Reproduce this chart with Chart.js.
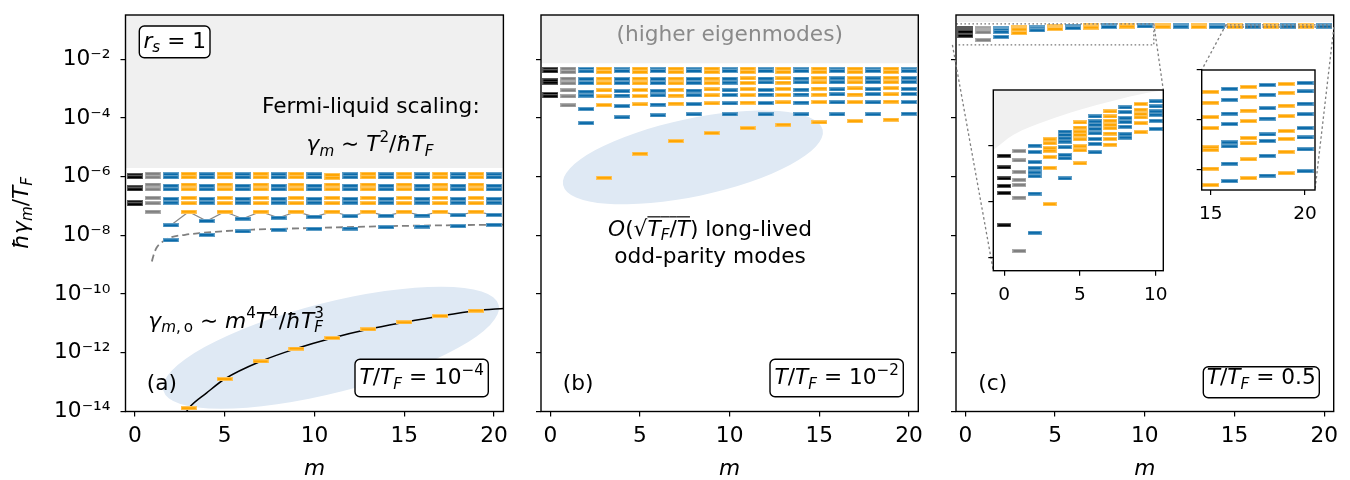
<!DOCTYPE html>
<html><head><meta charset="utf-8">
<script src="https://cdn.jsdelivr.net/npm/chart.js@4.4.1/dist/chart.umd.min.js"></script>
<style>
html,body{margin:0;padding:0;background:#fff;}
body{width:1350px;height:480px;position:relative;overflow:hidden;}
canvas{position:absolute;}
</style></head><body>
<canvas id="pa"></canvas><canvas id="pb"></canvas><canvas id="pc"></canvas><canvas id="in1"></canvas><canvas id="in2"></canvas>
<script>
// ================= DATA =================
const X_TICKS = [0, 5, 10, 15, 20];
const Y_TICKS = [1e-14, 1e-12, 1e-10, 1e-8, 1e-6, 1e-4, 1e-2];
const IN1_X_TICKS = [0, 5, 10];
const IN1_Y_TICKS = [0.04, 0.08, 0.12];
const IN2_X_TICKS = [15, 20];
const IN2_Y_TICKS = [0.13, 0.14, 0.15];

// panel (a), T/T_F = 1e-4 : damping rates for each m (index = m)
const A_COLS = [
 [1.12e-6, 9.6e-7, 4.3e-7, 3.7e-7, 1.35e-7, 1.15e-7],
 [1.26e-6, 9.6e-7, 5.4e-7, 3.7e-7, 1.9e-7, 1.25e-7, 6.4e-8],
 [1.2e-6, 9.6e-7, 4.9e-7, 3.7e-7, 1.75e-7, 1.3e-7, 2.2e-8, 6.8e-9],
 [1.26e-6, 9.6e-7, 5.4e-7, 3.7e-7, 1.9e-7, 1.25e-7, 6.4e-8, 1.3e-14],
 [1.2e-6, 9.6e-7, 4.9e-7, 3.7e-7, 1.75e-7, 1.3e-7, 3.1e-8, 1.04e-8],
 [1.26e-6, 9.6e-7, 5.4e-7, 3.7e-7, 1.9e-7, 1.25e-7, 6.4e-8, 1.28e-13],
 [1.2e-6, 9.6e-7, 4.9e-7, 3.7e-7, 1.75e-7, 1.3e-7, 3.7e-8, 1.36e-8],
 [1.26e-6, 9.6e-7, 5.4e-7, 3.7e-7, 1.9e-7, 1.25e-7, 6.4e-8, 5.1e-13],
 [1.2e-6, 9.6e-7, 4.9e-7, 3.7e-7, 1.75e-7, 1.3e-7, 4.0e-8, 1.55e-8],
 [1.26e-6, 9.6e-7, 5.4e-7, 3.7e-7, 1.9e-7, 1.25e-7, 6.4e-8, 1.4e-12],
 [1.2e-6, 9.6e-7, 4.9e-7, 3.7e-7, 1.75e-7, 1.3e-7, 4.3e-8, 1.67e-8],
 [1.15e-6, 9.2e-7, 5.4e-7, 3.7e-7, 1.9e-7, 1.25e-7, 6.4e-8, 3.2e-12],
 [1.2e-6, 9.6e-7, 4.9e-7, 3.7e-7, 1.75e-7, 1.3e-7, 4.5e-8, 1.71e-8],
 [1.26e-6, 9.6e-7, 5.4e-7, 3.7e-7, 1.9e-7, 1.25e-7, 6.4e-8, 6.3e-12],
 [1.2e-6, 9.6e-7, 4.9e-7, 3.7e-7, 1.75e-7, 1.3e-7, 4.65e-8, 1.9e-8],
 [1.26e-6, 9.6e-7, 5.4e-7, 3.7e-7, 1.9e-7, 1.25e-7, 6.4e-8, 1.09e-11],
 [1.2e-6, 9.6e-7, 4.9e-7, 3.7e-7, 1.75e-7, 1.3e-7, 4.76e-8, 2.0e-8],
 [1.26e-6, 9.6e-7, 5.4e-7, 3.7e-7, 1.9e-7, 1.25e-7, 6.4e-8, 1.8e-11],
 [1.2e-6, 9.6e-7, 4.9e-7, 3.7e-7, 1.75e-7, 1.3e-7, 4.88e-8, 2.06e-8],
 [1.26e-6, 9.6e-7, 5.4e-7, 3.7e-7, 1.9e-7, 1.25e-7, 6.4e-8, 2.73e-11],
 [1.2e-6, 9.6e-7, 4.9e-7, 3.7e-7, 1.75e-7, 1.3e-7, 5.0e-8, 2.29e-8]
];
const A_ZIG_INDEX = 6;                 // the single lower mode joined by the thin grey line (m >= 2)
const A_GUIDE_M = [0.95, 1.05, 1.21, 1.5, 1.95, 2.8, 3.8, 5, 6.6, 8.5, 10.3, 14, 20.6];
const A_GUIDE_V = [1.3e-9, 2.2e-9, 3.8e-9, 5.8e-9, 8.3e-9, 1.05e-8, 1.22e-8, 1.4e-8, 1.58e-8, 1.7e-8, 1.81e-8, 2.06e-8, 2.34e-8];
const A_FIT_M = [2.88, 3, 4, 5, 7, 9, 11, 13, 15, 17, 19, 20.6];
const A_FIT_V = [1.0e-14, 1.3e-14, 4.3e-14, 1.28e-13, 5.1e-13, 1.4e-12, 3.2e-12, 6.3e-12, 1.09e-11, 1.8e-11, 2.73e-11, 3.25e-11];

// panel (b), T/T_F = 1e-2
const B_COLS = [
 [4.6e-3, 3.9e-3, 1.9e-3, 1.6e-3, 6.6e-4, 5.5e-4],
 [4.82e-3, 3.69e-3, 2.2e-3, 1.52e-3, 8.75e-4, 5.47e-4, 2.7e-4],
 [4.67e-3, 3.9e-3, 2.13e-3, 1.55e-3, 7.9e-4, 5.8e-4, 2.01e-4, 6.7e-5],
 [4.82e-3, 3.69e-3, 2.2e-3, 1.52e-3, 8.75e-4, 5.47e-4, 2.76e-4, 9.2e-7],
 [4.5e-3, 4.0e-3, 2.13e-3, 1.55e-3, 8.2e-4, 5.8e-4, 2.55e-4, 1.05e-4],
 [4.82e-3, 3.69e-3, 2.2e-3, 1.52e-3, 9.0e-4, 5.6e-4, 2.92e-4, 6.07e-6],
 [4.5e-3, 4.0e-3, 2.13e-3, 1.55e-3, 8.4e-4, 5.9e-4, 2.85e-4, 1.23e-4],
 [4.82e-3, 3.69e-3, 2.2e-3, 1.52e-3, 9.2e-4, 5.8e-4, 3.08e-4, 1.63e-5],
 [4.5e-3, 4.0e-3, 2.15e-3, 1.57e-3, 8.6e-4, 6.0e-4, 2.98e-4, 1.33e-4],
 [4.82e-3, 3.69e-3, 2.2e-3, 1.55e-3, 9.4e-4, 5.9e-4, 3.15e-4, 3.06e-5],
 [4.5e-3, 4.0e-3, 2.17e-3, 1.6e-3, 8.8e-4, 6.1e-4, 3.15e-4, 1.33e-4],
 [4.82e-3, 3.69e-3, 2.25e-3, 1.57e-3, 9.6e-4, 6.0e-4, 3.33e-4, 4.53e-5],
 [4.5e-3, 4.0e-3, 2.2e-3, 1.62e-3, 9.0e-4, 6.2e-4, 3.23e-4, 1.33e-4],
 [4.82e-3, 3.69e-3, 2.25e-3, 1.6e-3, 9.8e-4, 6.1e-4, 3.41e-4, 5.92e-5],
 [4.5e-3, 4.0e-3, 2.2e-3, 1.64e-3, 9.2e-4, 6.3e-4, 3.33e-4, 1.33e-4],
 [4.82e-3, 3.69e-3, 2.3e-3, 1.62e-3, 1.0e-3, 6.2e-4, 3.49e-4, 7.09e-5],
 [4.5e-3, 4.0e-3, 2.25e-3, 1.66e-3, 9.4e-4, 6.4e-4, 3.41e-4, 1.33e-4],
 [4.82e-3, 3.69e-3, 2.3e-3, 1.64e-3, 1.02e-3, 6.3e-4, 3.49e-4, 7.85e-5],
 [4.5e-3, 4.0e-3, 2.25e-3, 1.68e-3, 9.6e-4, 6.5e-4, 3.41e-4, 1.33e-4],
 [4.82e-3, 3.69e-3, 2.35e-3, 1.66e-3, 1.04e-3, 6.4e-4, 3.6e-4, 8.77e-5],
 [4.5e-3, 4.0e-3, 2.3e-3, 1.7e-3, 9.8e-4, 6.6e-4, 3.49e-4, 1.4e-4]
];

// panel (c), T/T_F = 0.5
const C_COLS = [
 [0.1130, 0.1047, 0.0968, 0.0915, 0.0864, 0.0634],
 [0.1164, 0.1097, 0.1015, 0.0958, 0.0922, 0.0831, 0.0450],
 [0.1202, 0.1157, 0.1085, 0.1042, 0.1011, 0.0984, 0.0860, 0.0580],
 [0.1248, 0.1220, 0.1184, 0.1166, 0.1121, 0.1044, 0.0785],
 [0.1303, 0.1279, 0.1255, 0.1231, 0.1191, 0.1135, 0.1112, 0.0968],
 [0.1368, 0.1332, 0.1303, 0.1279, 0.1248, 0.1198, 0.1169, 0.1076],
 [0.1411, 0.1375, 0.1351, 0.1322, 0.1291, 0.1250, 0.1215, 0.1155],
 [0.1447, 0.1411, 0.1380, 0.1351, 0.1327, 0.1289, 0.1250, 0.1209],
 [0.1475, 0.1442, 0.1399, 0.1371, 0.1337, 0.1284, 0.1260],
 [0.1500, 0.1459, 0.1428, 0.1404, 0.1363, 0.1299],
 [0.1519, 0.1483, 0.1447, 0.1423, 0.1380, 0.1322],
 [0.1500, 0.1470, 0.1440, 0.1410, 0.1375, 0.1320, 0.1280],
 [0.1490, 0.1460, 0.1430, 0.1400, 0.1370, 0.1330, 0.1290],
 [0.1480, 0.1450, 0.1420, 0.1395, 0.1360, 0.1340, 0.1300, 0.1270],
 [0.1470, 0.1445, 0.1415, 0.1390, 0.1355, 0.1345, 0.1305, 0.1272],
 [0.1456, 0.1434, 0.1405, 0.1383, 0.1344, 0.1339, 0.1301, 0.1268],
 [0.1462, 0.1440, 0.1412, 0.1391, 0.1354, 0.1346, 0.1311, 0.1276],
 [0.1466, 0.1446, 0.1418, 0.1397, 0.1363, 0.1352, 0.1320, 0.1282],
 [0.1470, 0.1450, 0.1423, 0.1402, 0.1370, 0.1357, 0.1327, 0.1287],
 [0.1472, 0.1454, 0.1428, 0.1407, 0.1377, 0.1361, 0.1335, 0.1292],
 [0.1474, 0.1457, 0.1432, 0.1411, 0.1383, 0.1364, 0.1340, 0.1296]
];
// edge of the "higher eigenmodes" region in inset 1
const C_EDGE_M = [-0.73, 0.59, 2.8, 5.0, 7.2, 9.4, 10.6];
const C_EDGE_V = [0.1171, 0.1279, 0.1380, 0.1459, 0.1524, 0.1579, 0.1600];

// axis limits
const X_RANGE = [-0.52, 20.52];
const Y_RANGE = [1e-14, 0.323];
const IN1_X = [-0.72, 10.5], IN1_Y = [0.0309, 0.160];
const IN2_X = [14.52, 20.53], IN2_Y = [0.1258, 0.15];
const SHADE_A = 1.98e-6, SHADE_B = 7.3e-3, SHADE_C = 0.185;

// ================= STYLE =================
const FS = 21.7;
const FAM = '"DejaVu Sans"';
const COL = {black:'#000000', gray:'#808080', blue:'#0a6aa9', orange:'#ffa500'};
const SHADE = '#f0f0f0', ELL = '#dfe9f4';
Chart.defaults.font.family = FAM;
Chart.defaults.color = '#000';

function barImg(color, w, h) {
  const c = document.createElement('canvas'); c.width = w; c.height = h;
  const g = c.getContext('2d');
  g.fillStyle = color; g.fillRect(0, 0, w, h);
  g.strokeStyle = 'rgba(255,255,255,0.35)'; g.lineWidth = 1; g.strokeRect(0.5, 0.5, w - 1, h - 1);
  return c;
}
function imgs(w, h) { return {black:barImg(COL.black,w,h), gray:barImg(COL.gray,w,h), blue:barImg(COL.blue,w,h), orange:barImg(COL.orange,w,h)}; }

function markerSets(cols, im) {
  const g = {black:[], gray:[], blue:[], orange:[]};
  cols.forEach((vals, m) => {
    const k = m === 0 ? 'black' : m === 1 ? 'gray' : (m % 2 === 0 ? 'blue' : 'orange');
    vals.forEach(v => g[k].push({x:m, y:v}));
  });
  return ['black','gray','blue','orange'].map(k => ({
    data: g[k], pointStyle: im[k], pointRadius: 3, showLine: false, order: 1, borderWidth: 0
  }));
}
function curve(ms, vs, color, width, dash, order) {
  return {data: ms.map((m, i) => ({x:m, y:vs[i]})), showLine: true, borderColor: color, borderWidth: width,
    borderDash: dash || [], pointRadius: 0, cubicInterpolationMode: 'monotone', order: order || 2, fill: false};
}

// ---------- rich text ----------
function layoutRich(ctx, parts, fs) {
  let w = 0; const items = [];
  for (const p of parts) {
    const t = p[0], f = p[1] || '';
    const small = f.includes('_') || f.includes('^');
    const sz = small ? fs * 0.7 : fs;
    const font = (f.includes('i') ? 'italic ' : '') + sz.toFixed(2) + 'px ' + FAM;
    ctx.font = font;
    const tw = ctx.measureText(t).width;
    const dy = f.includes('_') ? 0.22 * fs : (f.includes('^') ? -0.42 * fs : 0);
    items.push({t, font, x: w, dy, tw, ov: f.includes('o')});
    if (!f.includes('n')) w += tw;
  }
  return {items, w};
}
function drawRich(ctx, parts, x, y, fs, align, color) {
  const L = layoutRich(ctx, parts, fs);
  const x0 = align === 'center' ? x - L.w / 2 : (align === 'right' ? x - L.w : x);
  ctx.fillStyle = color || '#000'; ctx.textBaseline = 'alphabetic'; ctx.textAlign = 'left';
  for (const it of L.items) {
    ctx.font = it.font; ctx.fillText(it.t, x0 + it.x, y + it.dy);
    if (it.ov) { ctx.save(); ctx.strokeStyle = color || '#000'; ctx.lineWidth = 1.2; ctx.beginPath();
      ctx.moveTo(x0 + it.x, y - 0.86 * fs); ctx.lineTo(x0 + it.x + it.tw, y - 0.86 * fs); ctx.stroke(); ctx.restore(); }
  }
}
function roundBox(ctx, l, t, r, b, rad) {
  ctx.save(); ctx.beginPath(); ctx.roundRect(l, t, r - l, b - t, rad);
  ctx.fillStyle = '#fff'; ctx.fill(); ctx.lineWidth = 1.4; ctx.strokeStyle = '#000'; ctx.stroke(); ctx.restore();
}

// ---------- texts (page coordinates) ----------
const YLAB = [['ħ','i'],['γ','i'],['m','i_'],['/',''],['T','i'],['F','i_']];
const TXT_RS = [['r','i'],['s','i_'],[' = 1','']];
const TXT_FL1 = [['Fermi-liquid scaling:','']];
const TXT_FL2 = [['γ','i'],['m','i_'],[' ∼ ',''],['T','i'],['2','^'],['/',''],['ħ','i'],['T','i'],['F','i_']];
const TXT_ODD = [['γ','i'],['m','i_'],[',\u2009o','_'],[' ∼ ',''],['m','i'],['4','^'],['T','i'],['4','^'],['/',''],['ħ','i'],['T','i'],['F','i_n'],['3','^']];
const TXT_TA = [['T','i'],['/',''],['T','i'],['F','i_'],[' = 10',''],['−4','^']];
const TXT_TB = [['T','i'],['/',''],['T','i'],['F','i_'],[' = 10',''],['−2','^']];
const TXT_TC = [['T','i'],['/',''],['T','i'],['F','i_'],[' = 0.5','']];
const TXT_HI = [['(higher eigenmodes)','']];
const TXT_SQ = [['O','i'],['(',''],['√',''],['T','io'],['F','i_o'],['/','o'],['T','io'],[')',''],[' long-lived','']];
const TXT_OP = [['odd-parity modes','']];

// ---------- panel decorations ----------
const DECO = {
  pa: {ox:0, oy:0, shade:SHADE_A, ellipse:{m:10.92, v:1.49e-12, rx:173, ry:45, rot:-14.3},
    texts:[
      {p:TXT_RS, x:174.7, y:47.5, a:'center', box:[139.3,26,210,57.7]},
      {p:TXT_FL1, x:370.8, y:112.5, a:'center'},
      {p:TXT_FL2, x:370, y:151, a:'center'},
      {p:TXT_ODD, x:148.3, y:327.5, a:'left'},
      {p:[['(a)','']], x:146.7, y:390, a:'left'},
      {p:TXT_TA, x:421.7, y:384, a:'center', box:[355,359.3,488.3,396.7]},
      {p:YLAB, x:27.5, y:213, a:'center', rot:-90}
    ]},
  pb: {ox:520, oy:0, shade:SHADE_B, ellipse:{m:7.95, v:4.53e-6, rx:132.7, ry:38.8, rot:-12},
    texts:[
      {p:TXT_HI, x:729.7, y:40.5, a:'center', c:'#8a8a8a'},
      {p:TXT_SQ, x:710, y:235.5, a:'center'},
      {p:TXT_OP, x:710, y:262.5, a:'center'},
      {p:[['(b)','']], x:562.7, y:390, a:'left'},
      {p:TXT_TB, x:836.7, y:384, a:'center', box:[770,359.3,903.3,396.7]}
    ]},
  pc: {ox:935, oy:0, shade:SHADE_C,
    rects:[{x:IN1_X, y:IN1_Y}, {x:IN2_X, y:IN2_Y}],
    conn:[{m:IN1_X[1], v:IN1_Y[1], px:1163.3, py:90}, {m:IN1_X[0], v:IN1_Y[0], px:993.3, py:270.7},
          {m:IN2_X[0], v:IN2_Y[1], px:1201.7, py:70}, {m:IN2_X[1], v:IN2_Y[0], px:1315, py:190}],
    texts:[
      {p:[['(c)','']], x:978.3, y:390, a:'left'},
      {p:TXT_TC, x:1261.3, y:384, a:'center', box:[1203.3,366.7,1319.3,397.7]}
    ]},
  in1: {ox:975, oy:80},
  in2: {ox:1185, oy:60}
};

const decoPlugin = {
  id: 'deco',
  beforeDatasetsDraw(chart) {
    const d = DECO[chart.canvas.id]; if (!d) return;
    const {ctx, chartArea: a} = chart; const sx = chart.scales.x, sy = chart.scales.y;
    ctx.save(); ctx.beginPath(); ctx.rect(a.left, a.top, a.width, a.height); ctx.clip();
    ctx.fillStyle = '#fff'; ctx.fillRect(a.left, a.top, a.width, a.height);
    if (d.shade != null) { const yy = sy.getPixelForValue(d.shade); ctx.fillStyle = SHADE; ctx.fillRect(a.left, a.top, a.width, yy - a.top); }
    if (d.ellipse) { const e = d.ellipse; ctx.fillStyle = ELL; ctx.beginPath();
      ctx.ellipse(sx.getPixelForValue(e.m), sy.getPixelForValue(e.v), e.rx, e.ry, e.rot * Math.PI / 180, 0, 2 * Math.PI); ctx.fill(); }
    ctx.restore();
  },
  afterDatasetsDraw(chart) {
    const d = DECO[chart.canvas.id]; if (!d) return;
    const {ctx, chartArea: a} = chart; const sx = chart.scales.x, sy = chart.scales.y;
    if (d.rects) {
      ctx.save(); ctx.beginPath(); ctx.rect(a.left, a.top, a.width, a.height); ctx.clip();
      ctx.strokeStyle = '#777'; ctx.lineWidth = 1.3; ctx.setLineDash([1.6, 2.4]);
      for (const r of d.rects) {
        const x0 = sx.getPixelForValue(r.x[0]), x1 = sx.getPixelForValue(r.x[1]);
        const y0 = sy.getPixelForValue(r.y[0]), y1 = sy.getPixelForValue(r.y[1]);
        ctx.strokeRect(x0, y1, x1 - x0, y0 - y1);
      }
      ctx.restore();
    }
    ctx.save(); ctx.strokeStyle = '#000'; ctx.lineWidth = 1.4; ctx.strokeRect(a.left, a.top, a.width, a.height); ctx.restore();
  },
  afterDraw(chart) {
    const d = DECO[chart.canvas.id]; if (!d) return;
    const {ctx} = chart; const sx = chart.scales.x, sy = chart.scales.y;
    ctx.save(); ctx.translate(-d.ox, -d.oy);
    if (d.conn) {
      ctx.save(); ctx.strokeStyle = '#808080'; ctx.lineWidth = 1.3; ctx.setLineDash([2.5, 2.5]);
      for (const c of d.conn) {
        ctx.beginPath(); ctx.moveTo(sx.getPixelForValue(c.m) + d.ox, sy.getPixelForValue(c.v) + d.oy);
        ctx.lineTo(c.px, c.py); ctx.stroke();
      }
      ctx.restore();
    }
    for (const t of (d.texts || [])) {
      if (t.box) roundBox(ctx, t.box[0], t.box[1], t.box[2], t.box[3], 5);
      if (t.rot) { ctx.save(); ctx.translate(t.x, t.y); ctx.rotate(t.rot * Math.PI / 180); drawRich(ctx, t.p, 0, 0, FS, t.a, t.c); ctx.restore(); }
      else drawRich(ctx, t.p, t.x, t.y, FS, t.a, t.c);
    }
    ctx.restore();
  }
};

// ---------- chart builders ----------
const SUPMAP = {'-':'⁻','0':'⁰','1':'¹','2':'²','3':'³','4':'⁴','5':'⁵','6':'⁶','7':'⁷','8':'⁸','9':'⁹'};
function powLabel(v) { const e = Math.round(Math.log10(v)); return '10' + String(e).split('').map(c => SUPMAP[c]).join(''); }
const GRID = {drawOnChartArea:false, drawTicks:true, tickLength:5, color:'#000', lineWidth:1.2};

function xScale(range, ticks, h, fs, pad, title) {
  return {type:'linear', position:'bottom', min:range[0], max:range[1],
    afterBuildTicks: s => { s.ticks = ticks.map(v => ({value:v})); },
    afterFit: s => { s.height = h; s.paddingLeft = 0; s.paddingRight = 0; },
    ticks:{font:{size:fs}, color:'#000', padding:pad, maxRotation:0, minRotation:0, autoSkip:false, callback: v => String(v)},
    grid: GRID, border:{display:false},
    title: title ? {display:true, text:'m', color:'#000', font:{size:FS, style:'italic', lineHeight:1}, padding:{top:0, bottom:0}} : {display:false}};
}
function yScale(type, range, ticks, w, labels) {
  return {type, position:'left', min:range[0], max:range[1],
    afterBuildTicks: s => { s.ticks = ticks.map(v => ({value:v})); },
    afterFit: s => { s.width = w; s.paddingTop = 0; s.paddingBottom = 0; },
    ticks:{font:{size:FS}, color:'#000', padding:10, autoSkip:false, callback: labels ? (v => powLabel(v)) : (() => '')},
    grid: GRID, border:{display:false}};
}
function build(id, g, datasets, xs, ys) {
  const cv = document.getElementById(id);
  cv.width = g.w; cv.height = g.h;
  Object.assign(cv.style, {left:g.left + 'px', top:g.top + 'px', width:g.w + 'px', height:g.h + 'px'});
  return new Chart(cv, {type:'scatter', data:{datasets},
    options:{responsive:false, maintainAspectRatio:false, animation:false, devicePixelRatio:1, events:[],
      layout:{padding:{left:0, top:g.padTop, right:g.padRight, bottom:0}},
      plugins:{legend:{display:false}, tooltip:{enabled:false}},
      scales:{x:xs, y:ys}},
    plugins:[decoPlugin]});
}

const IM_MAIN = imgs(16, 4), IM_IN1 = imgs(14, 4), IM_IN2 = imgs(17, 4);

// panel (a)
const aZig = A_COLS.map((c, m) => m >= 2 ? {x:m, y:c[A_ZIG_INDEX]} : null).filter(p => p);
build('pa', {left:0, top:0, w:516, h:480, padTop:15, padRight:12.6},
  [...markerSets(A_COLS, IM_MAIN),
   {data:aZig, showLine:true, borderColor:'#888', borderWidth:1.2, pointRadius:0, order:2},
   curve(A_GUIDE_M, A_GUIDE_V, '#808080', 1.8, [7, 4], 2),
   curve(A_FIT_M, A_FIT_V, '#000', 1.5, null, 2)],
  xScale(X_RANGE, X_TICKS, 68.5, FS, 7.3, true),
  yScale('logarithmic', Y_RANGE, Y_TICKS, 125.5, true));

// panel (b)
build('pb', {left:520, top:0, w:411, h:480, padTop:15, padRight:12.7},
  markerSets(B_COLS, IM_MAIN),
  xScale(X_RANGE, X_TICKS, 68.5, FS, 7.3, true),
  yScale('logarithmic', Y_RANGE, Y_TICKS, 21, false));

// panel (c)
build('pc', {left:935, top:0, w:415, h:480, padTop:15, padRight:16.3},
  markerSets(C_COLS, IM_MAIN),
  xScale(X_RANGE, X_TICKS, 68.5, FS, 7.3, true),
  yScale('logarithmic', Y_RANGE, Y_TICKS, 21, false));

// inset 1 (m = 0..10)
build('in1', {left:975, top:80, w:205, h:230, padTop:10, padRight:16.7},
  [...markerSets(C_COLS, IM_IN1),
   {data:C_EDGE_M.map((m, i) => ({x:m, y:C_EDGE_V[i]})), showLine:true, borderWidth:0, borderColor:'rgba(0,0,0,0)',
    backgroundColor:SHADE, fill:'end', pointRadius:0, cubicInterpolationMode:'monotone', order:5}],
  xScale(IN1_X, IN1_X_TICKS, 39.3, 18.5, 8.5, false),
  yScale('linear', IN1_Y, IN1_Y_TICKS, 18.3, false));

// inset 2 (m = 15..20)
build('in2', {left:1185, top:60, w:150, h:175, padTop:10, padRight:20},
  markerSets(C_COLS, IM_IN2),
  xScale(IN2_X, IN2_X_TICKS, 45, 18.5, 8.5, false),
  yScale('linear', IN2_Y, IN2_Y_TICKS, 16.7, false));
</script>
</body></html>
